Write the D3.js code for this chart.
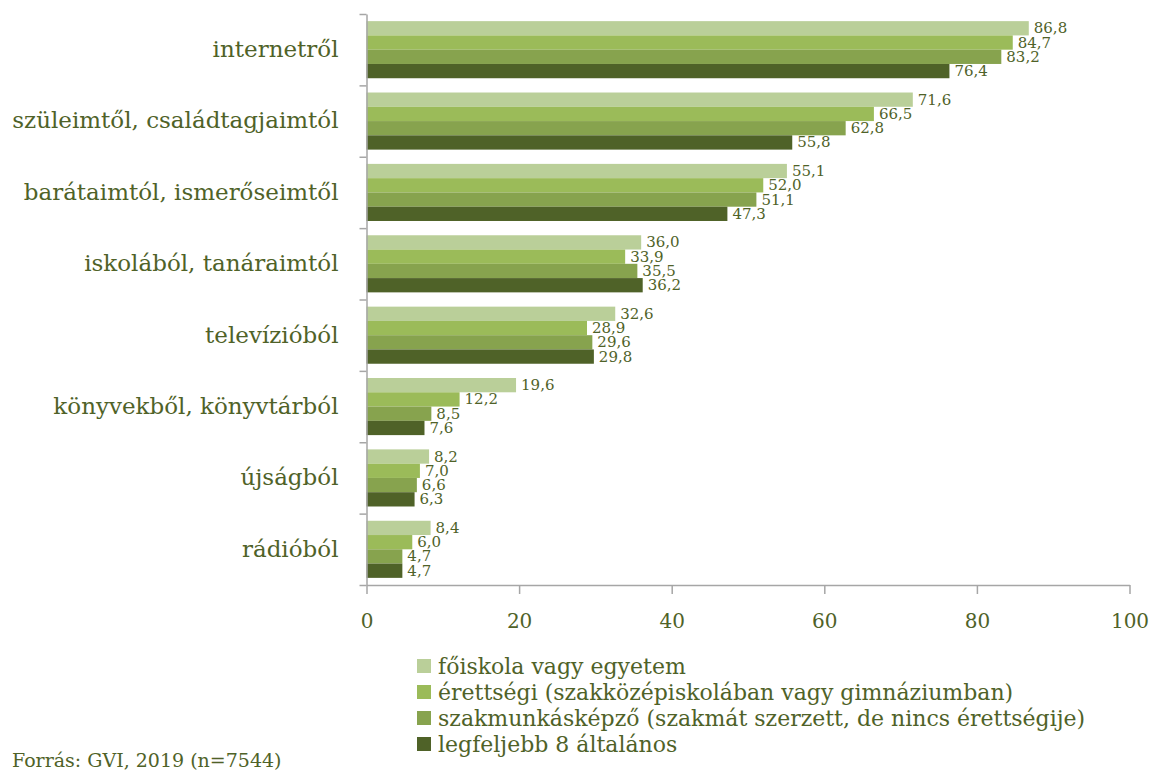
<!DOCTYPE html>
<html>
<head>
<meta charset="utf-8">
<script src="https://cdn.jsdelivr.net/npm/d3@7"></script>
<style>
  body { margin: 0; background: #fff; }
  #chart text { font-family: "DejaVu Serif", serif; fill: #4f6228; }
</style>
</head>
<body>
<div id="chart"></div>
<script>
// Honnan tájékozódik a fiatal – iskolai végzettség szerint (GVI, 2019)

const categories = [
  'internetről',
  'szüleimtől, családtagjaimtól',
  'barátaimtól, ismerőseimtől',
  'iskolából, tanáraimtól',
  'televízióból',
  'könyvekből, könyvtárból',
  'újságból',
  'rádióból'
];

const seriesNames = [
  'főiskola vagy egyetem',
  'érettségi (szakközépiskolában vagy gimnáziumban)',
  'szakmunkásképző (szakmát szerzett, de nincs érettségije)',
  'legfeljebb 8 általános'
];

const foiskola = [86.8, 71.6, 55.1, 36.0, 32.6, 19.6, 8.2, 8.4];
const erettsegi = [84.7, 66.5, 52.0, 33.9, 28.9, 12.2, 7.0, 6.0];
const szakmunkas = [83.2, 62.8, 51.1, 35.5, 29.6, 8.5, 6.6, 4.7];
const altalanos = [76.4, 55.8, 47.3, 36.2, 29.8, 7.6, 6.3, 4.7];

const xTicks = [0, 20, 40, 60, 80, 100];
const sourceNote = 'Forrás: GVI, 2019 (n=7544)';

const COLOURS = ['#bacf99', '#9bbb59', '#87a34e', '#4f6228'];
const AXIS_GREY = '#a6a6a6';

const seriesValues = [foiskola, erettsegi, szakmunkas, altalanos];
const rows = categories.map((cat, i) => ({
  cat,
  values: seriesNames.map((name, s) => ({ name, s, value: seriesValues[s][i] }))
}));

const width = 1152;
const height = 774;
const plot = { left: 366.5, right: 1129.5, top: 14, bottom: 585 };

const fmt = (v) => d3.format('.1f')(v).replace('.', ',');

const svg = d3
  .select('#chart')
  .append('svg')
  .attr('width', width)
  .attr('height', height);

const x = d3.scaleLinear().domain([0, 100]).range([plot.left, plot.right]);
const y = d3.scaleBand().domain(categories).range([plot.top, plot.bottom]).padding(0);
const ySub = d3
  .scaleBand()
  .domain(seriesNames)
  .range([0, y.bandwidth()])
  .paddingInner(0)
  .paddingOuter(0.5);
const yEdges = d3.scaleLinear().domain([0, categories.length]).range([plot.top, plot.bottom]);

// bars
const groups = svg
  .selectAll('g.group')
  .data(rows)
  .join('g')
  .attr('class', 'group')
  .attr('transform', (d) => `translate(0,${y(d.cat)})`);

groups
  .selectAll('rect')
  .data((d) => d.values)
  .join('rect')
  .attr('x', x(0))
  .attr('y', (d) => ySub(d.name))
  .attr('width', (d) => x(d.value) - x(0))
  .attr('height', ySub.bandwidth())
  .attr('fill', (d) => COLOURS[d.s]);

groups
  .selectAll('text.value')
  .data((d) => d.values)
  .join('text')
  .attr('class', 'value')
  .attr('x', (d) => x(d.value) + 5)
  .attr('y', (d) => ySub(d.name) + ySub.bandwidth() / 2)
  .attr('dominant-baseline', 'central')
  .style('font-size', '15px')
  .text((d) => fmt(d.value));

// left axis: line with ticks at category boundaries
svg
  .append('g')
  .attr('transform', `translate(${plot.left},0)`)
  .call(d3.axisLeft(yEdges).ticks(categories.length).tickSize(7).tickSizeOuter(0).tickFormat(''))
  .call((g) => g.selectAll('line, path').attr('stroke', AXIS_GREY).attr('stroke-width', 1.5));

// category labels
svg
  .append('g')
  .attr('transform', `translate(${plot.left},0)`)
  .call(d3.axisLeft(y).tickSize(0).tickPadding(28))
  .call((g) => g.select('.domain').remove())
  .call((g) => g.selectAll('text').style('font-size', '23px').style('font-family', null));

// bottom axis
svg
  .append('g')
  .attr('transform', `translate(0,${plot.bottom})`)
  .call(d3.axisBottom(x).tickValues(xTicks).tickSize(9).tickSizeOuter(0).tickPadding(20))
  .call((g) => g.selectAll('line, path').attr('stroke', AXIS_GREY).attr('stroke-width', 1.5))
  .call((g) => g.selectAll('text').style('font-size', '20px').style('font-family', null));

// legend
const legend = svg
  .selectAll('g.legend')
  .data(seriesNames)
  .join('g')
  .attr('class', 'legend')
  .attr('transform', (d, i) => `translate(417,${666 + i * 26})`);

legend
  .append('rect')
  .attr('y', -7)
  .attr('width', 14)
  .attr('height', 14)
  .attr('fill', (d, i) => COLOURS[i]);

legend
  .append('text')
  .attr('x', 21)
  .attr('dominant-baseline', 'central')
  .style('font-size', '22px')
  .text((d) => d);

// source
svg
  .append('text')
  .attr('x', 12)
  .attr('y', 767)
  .style('font-size', '19px')
  .text(sourceNote);
</script>
</body>
</html>
